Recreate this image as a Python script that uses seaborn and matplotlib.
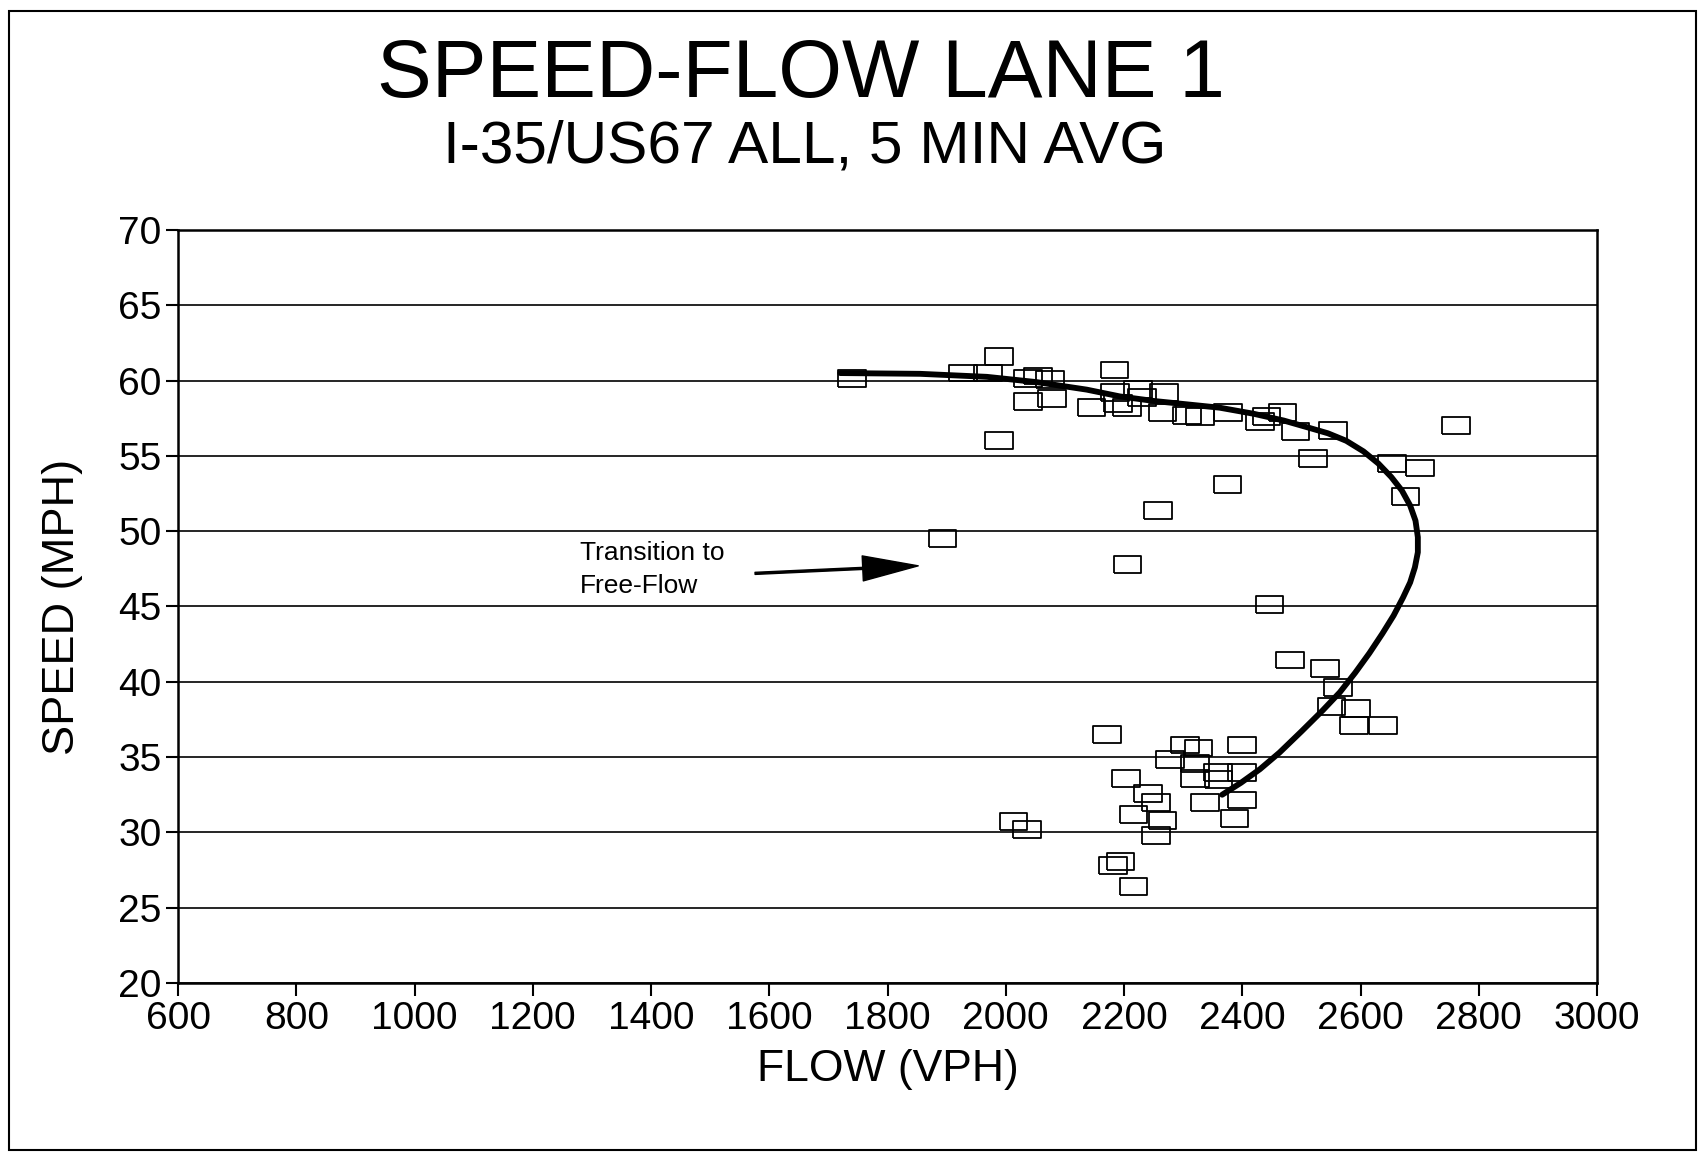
import matplotlib
matplotlib.use("Agg")
import matplotlib.pyplot as plt
import matplotlib.patches as patches
import seaborn as sns
import pandas as pd

# scatter points (flow in vph, speed in mph)
flow_vph = [1740, 1928, 1989, 1970, 2038, 2055, 2075, 1989, 2038, 2078,
            2184, 2145, 2185, 2190, 2205, 2224, 2230, 2268, 2265, 2306,
            2329, 2376, 2430, 2441, 2468, 2490, 2553, 2520, 2653, 2700,
            2676, 2761, 2375, 2258, 1893, 2206, 2446, 2481, 2540, 2562,
            2551, 2592, 2589, 2638, 2171, 2303, 2326, 2399, 2278, 2320,
            2320, 2360, 2399, 2359, 2203, 2241, 2254, 2337, 2399, 2387,
            2216, 2265, 2254, 2013, 2036, 2194, 2182, 2216]
speed_mph = [60.15, 60.5, 61.6, 60.5, 60.15, 60.3, 60.1, 56.0, 58.6, 58.8,
             60.7, 58.2, 59.2, 58.5, 58.2, 59.4, 58.9, 59.2, 57.9, 57.7,
             57.6, 57.9, 57.3, 57.6, 57.9, 56.6, 56.7, 54.8, 54.5, 54.2,
             52.3, 57.0, 53.1, 51.4, 49.5, 47.8, 45.15, 41.45, 40.9, 39.6,
             38.35, 38.2, 37.1, 37.1, 36.5, 35.8, 35.6, 35.8, 34.85, 34.6,
             33.6, 33.5, 34.0, 34.0, 33.6, 32.6, 32.0, 32.0, 32.15, 30.9,
             31.2, 30.8, 29.8, 30.75, 30.2, 28.05, 27.8, 26.4]

# fitted speed-flow curve
curve_flow = [1720, 1855, 1968, 2052, 2137, 2193, 2250, 2362, 2419, 2470,
              2510, 2545, 2576, 2605, 2630, 2652, 2670, 2684, 2693, 2697,
              2697, 2692, 2684, 2672, 2656, 2637, 2615, 2591, 2565, 2536,
              2500, 2463, 2430, 2398, 2366]
curve_speed = [60.5, 60.45, 60.25, 59.9, 59.4, 58.95, 58.65, 58.2, 57.8, 57.35,
               56.9, 56.5, 56.0, 55.3, 54.5, 53.6, 52.7, 51.7, 50.7, 49.6,
               48.6, 47.6, 46.6, 45.6, 44.4, 43.2, 41.9, 40.6, 39.3, 38.1,
               36.7, 35.3, 34.2, 33.3, 32.5]

x_ticks = [600, 800, 1000, 1200, 1400, 1600, 1800, 2000, 2200, 2400, 2600, 2800, 3000]
y_ticks = [20, 25, 30, 35, 40, 45, 50, 55, 60, 65, 70]
note_lines = ["Transition to", "Free-Flow"]

sns.set_style("white")
plt.rcParams['font.family'] = ['Liberation Sans', 'DejaVu Sans']
plt.rcParams['text.color'] = 'black'
plt.rcParams['axes.labelcolor'] = 'black'

W, H = 1699, 1153
fig = plt.figure(figsize=(W / 100, H / 100), dpi=100)
ax = fig.add_axes([178 / W, 1 - 983 / H, (1597 - 178) / W, (983 - 230) / H])

pts = pd.DataFrame({"flow": flow_vph, "speed": speed_mph})
curve = pd.DataFrame({"flow": curve_flow, "speed": curve_speed})

box = [(-1.65, -1), (1.65, -1), (1.65, 1), (-1.65, 1), (-1.65, -1)]
sns.scatterplot(data=pts, x="flow", y="speed", marker=box, s=400,
                color="black", facecolor="none", edgecolor="black",
                linewidth=1.3, ax=ax, zorder=3)
sns.lineplot(data=curve, x="flow", y="speed", sort=False, estimator=None,
             color="black", lw=4.2, ax=ax, zorder=4)

ax.set_xlim(600, 3000)
ax.set_ylim(20, 70)
ax.set_xticks(x_ticks)
ax.set_yticks(y_ticks)
ax.yaxis.grid(True, color="black", lw=1.2)
ax.xaxis.grid(False)
ax.set_axisbelow(True)
for s in ax.spines.values():
    s.set_visible(True)
    s.set_color("black")
    s.set_linewidth(1.8)
ax.tick_params(axis="both", direction="out", length=9, width=1.5,
               labelsize=28, color="black", labelcolor="black",
               bottom=True, left=True)
ax.tick_params(axis="x", pad=4)
ax.tick_params(axis="y", pad=3)

ax.set_xlabel("FLOW (VPH)", fontsize=32)
ax.set_ylabel("SPEED (MPH)", fontsize=32.5)
ax.xaxis.set_label_coords(0.5, -0.088)
ax.yaxis.set_label_coords(-0.067, 0.5)

# annotation
ax.text(1280, 48.1, note_lines[0], fontsize=19, va="baseline", ha="left")
ax.text(1280, 45.9, note_lines[1], fontsize=19, va="baseline", ha="left")
ax.annotate("", xy=(1852, 47.7), xytext=(1576, 47.2),
            arrowprops=dict(facecolor="black", edgecolor="black", width=1.5,
                            headwidth=18, headlength=40, shrink=0))

fig.text(801 / W, 1 - 97.5 / H, "SPEED-FLOW LANE 1", fontsize=59,
         ha="center", va="baseline")
fig.text(805 / W, 1 - 162.5 / H, "I-35/US67 ALL, 5 MIN AVG", fontsize=43.5,
         ha="center", va="baseline")

# page border
border = patches.Rectangle((9 / W, 3 / H), (1696 - 9) / W, (1150 - 11) / H,
                           fill=False, lw=1.5, edgecolor="black",
                           transform=fig.transFigure, figure=fig)
fig.patches.append(border)

fig.savefig("out.png", dpi=100)
